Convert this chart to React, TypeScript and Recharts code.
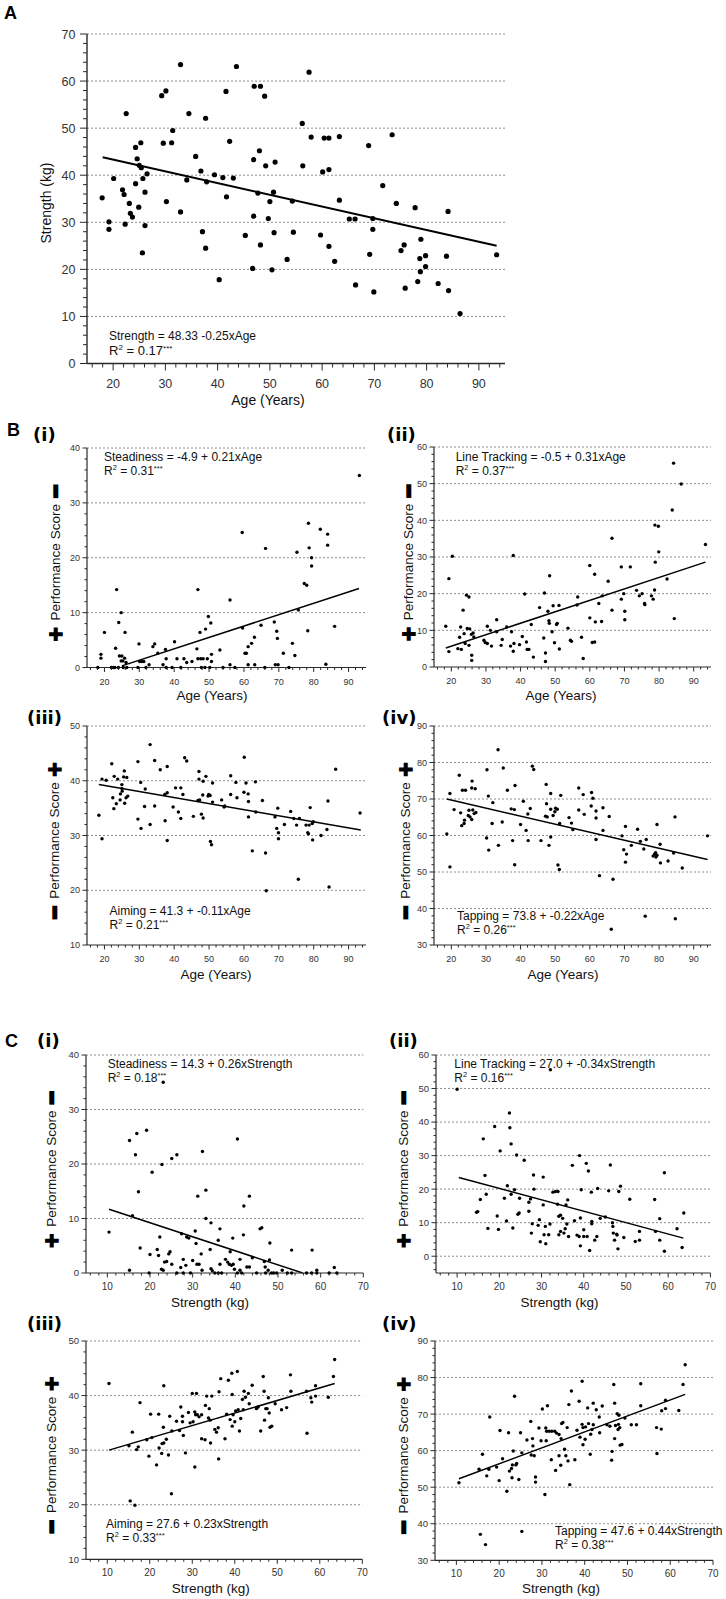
import React from 'react';
import { ScatterChart, Scatter, XAxis, YAxis, ReferenceLine } from 'recharts';

type Pair = [number, number];

// ---------- DATA ----------
// Panel A: Age (years) vs Strength (kg)
const strengthVsAge: Pair[] = [
  [17.9,35.2],[19.2,30.1],[19.2,28.5],[20.1,39.3],[21.8,36.9],[22.1,35.9],[22.5,53.1],[22.3,29.6],[23.1,34.0],[23.3,31.9],
  [23.7,31.1],[24.3,45.9],[24.3,38.2],[24.6,43.5],[24.9,33.2],[25.0,42.1],[25.3,46.9],[25.4,41.6],[25.7,39.3],[25.6,23.5],
  [26.1,36.4],[26.1,29.3],[26.5,40.3],[29.3,56.9],[29.6,46.8],[30.1,57.9],[30.2,34.4],[31.2,46.9],[31.4,49.5],[32.9,63.5],
  [32.9,32.2],[34.1,39.0],[34.5,53.1],[35.8,44.0],[36.8,40.9],[37.1,28.0],[37.7,52.1],[37.9,38.6],[37.7,24.5],[39.4,40.1],
  [40.3,17.8],[41.0,39.5],[41.6,57.8],[41.7,35.4],[42.3,47.2],[43.0,39.4],[43.6,63.1],[45.3,27.2],[46.7,20.2],[46.9,43.3],
  [46.9,31.3],[47.0,58.9],[47.7,36.2],[48.0,45.2],[48.2,58.9],[48.2,25.2],[49.0,56.8],[49.2,42.0],[49.7,30.8],[50.0,34.4],
  [50.4,19.9],[50.7,36.4],[50.8,27.8],[51.0,42.8],[53.3,22.1],[54.3,34.5],[54.5,27.9],[56.2,51.0],[56.3,42.0],[57.5,61.9],
  [57.9,48.1],[59.7,27.3],[60.1,40.7],[60.4,47.9],[61.3,47.9],[61.3,41.2],[61.3,24.9],[62.4,21.7],[63.3,48.2],[63.3,34.7],
  [65.2,30.7],[66.3,30.7],[66.4,16.7],[68.9,46.3],[69.1,23.2],[69.7,30.8],[69.7,28.5],[69.9,15.2],[71.6,37.8],[73.4,48.6],
  [74.2,34.0],[75.1,24.0],[75.7,25.2],[75.9,16.0],[77.8,33.1],[78.3,17.4],[78.7,22.3],[78.9,26.4],[78.8,19.5],[79.8,22.9],
  [79.8,20.6],[82.2,17.0],[83.8,22.8],[84.1,32.3],[84.2,15.5],[86.4,10.6],[93.4,23.1],
];
const strengthVsAgeFit: [Pair, Pair] = [[18, 43.8], [93.4, 25.0]];

// Panel B(i): Age vs Steadiness
const steadinessVsAge: Pair[] = [
  [18.1,0],[19.0,2.4],[19.0,1.7],[20.0,6.4],[22.0,0],[22.5,0],[23.0,0],[23.2,3.5],[23.5,14.2],[24.1,8.2],
  [24.8,10.0],[24.3,2.1],[25.0,2.1],[24.8,1.2],[25.3,1.2],[25.8,1.7],[25.9,6.4],[26.2,0.9],[24.0,0],[25.4,0],
  [26.4,0],[29.6,0],[29.9,4.3],[30.1,1.1],[30.7,1.1],[31.3,1.1],[31.9,0],[32.8,0.5],[33.9,3.8],[34.4,4.3],
  [35.3,2.6],[36.8,0.5],[37.5,3.3],[37.7,1.6],[37.7,0],[39.4,0],[40.1,4.7],[40.8,1.6],[41.9,0],[42.8,1.6],
  [43.6,0.9],[45.1,1.1],[46.5,3.4],[46.8,14.2],[46.8,1.6],[47.6,1.6],[48.3,1.6],[47.4,6.4],[49.0,7.0],[49.5,1.6],
  [49.8,9.3],[50.5,8.1],[50.7,2.4],[50.7,1.1],[47.8,0],[48.8,0],[50.2,0],[53.1,3.2],[54.0,0],[56.0,12.3],
  [56.0,0.5],[57.4,0],[59.5,24.6],[59.6,7.2],[60.3,2.6],[60.7,2.6],[61.2,3.8],[61.2,0.5],[62.2,4.4],[63.0,5.5],
  [63.1,0.5],[64.9,7.7],[66.0,0],[66.2,21.7],[68.7,8.3],[69.4,6.6],[69.6,5.3],[69.0,0.5],[69.8,0.5],[71.3,2.6],
  [72.9,0],[73.9,4.4],[74.6,2.2],[75.2,21.0],[75.6,10.5],[77.3,15.3],[78.0,15.0],[78.3,6.7],[78.5,26.3],[78.7,21.8],
  [79.4,20.0],[79.4,18.5],[81.9,25.2],[84.0,24.3],[84.0,22.3],[83.5,0.6],[86.0,7.5],[93.1,35.0],
];
const steadinessVsAgeFit: [Pair, Pair] = [[25.0, 0.3], [93.0, 14.4]];

// Panel B(ii): Age vs Line Tracking
const lineTrackingVsAge: Pair[] = [
  [18.4,11.1],[19.3,4.2],[19.3,24.1],[20.3,30.2],[21.9,5.0],[22.4,8.1],[22.7,10.9],[22.9,4.8],[23.4,15.5],[23.7,9.1],
  [24.0,6.4],[24.4,19.6],[25.1,19.1],[24.6,10.5],[25.3,10.4],[25.1,5.9],[25.8,8.9],[25.9,3.2],[25.9,1.8],[26.3,9.3],
  [26.5,8.2],[29.4,7.3],[29.8,6.7],[30.4,6.4],[30.4,11.1],[31.3,10.0],[31.6,5.7],[33.1,12.9],[33.1,9.6],[34.4,5.9],
  [34.7,7.5],[36.0,10.9],[37.1,5.7],[37.4,9.6],[37.9,4.3],[37.9,30.4],[38.1,6.4],[39.7,6.1],[40.5,8.3],[41.2,19.9],
  [41.7,6.8],[41.9,4.8],[42.4,4.8],[43.1,11.6],[43.7,2.7],[45.5,16.2],[46.7,7.9],[46.9,20.2],[47.2,3.8],[47.2,1.5],
  [47.9,15.2],[48.2,12.6],[48.4,24.9],[48.3,11.9],[49.1,9.6],[49.4,16.7],[49.8,6.6],[50.4,11.6],[50.6,11.9],[51.1,16.8],
  [51.2,4.9],[53.7,10.6],[54.4,7.3],[54.7,7.0],[56.3,16.9],[56.5,19.1],[57.6,8.1],[58.1,2.3],[60.0,27.7],[60.0,13.4],
  [60.7,6.7],[61.4,6.8],[61.4,25.3],[61.6,12.3],[62.6,17.3],[63.4,12.4],[63.6,19.4],[65.3,23.4],[66.4,35.1],[66.4,15.5],
  [69.1,27.3],[69.1,18.5],[69.8,20.0],[70.1,15.2],[70.1,12.9],[71.7,27.3],[73.5,20.9],[74.3,19.4],[75.1,20.0],[75.8,17.3],
  [75.9,17.0],[77.8,19.4],[78.3,18.5],[78.7,21.0],[78.8,38.7],[79.8,38.4],[78.9,28.6],[79.9,31.4],[82.3,24.0],[83.8,42.8],
  [84.2,55.6],[84.4,13.2],[86.4,49.9],[93.4,33.4],
];
const lineTrackingVsAgeFit: [Pair, Pair] = [[18.4, 5.2], [93.4, 28.6]];

// Panel B(iii): Age vs Aiming
const aimingVsAge: Pair[] = [
  [18.4,33.7],[19.3,29.4],[19.3,40.3],[20.5,40.1],[22.1,43.1],[22.4,36.9],[22.8,40.8],[22.7,34.9],[23.4,35.8],[23.8,40.3],
  [24.5,36.5],[24.6,37.6],[25.0,38.6],[25.0,39.3],[25.1,38.1],[25.7,41.8],[25.8,35.9],[25.5,40.7],[26.2,36.9],[26.4,40.6],
  [26.7,37.2],[29.6,43.5],[29.6,33.0],[30.4,39.7],[30.5,31.3],[31.5,35.3],[31.7,38.5],[33.1,46.6],[33.1,32.0],[34.4,43.7],
  [34.4,35.4],[36.0,42.0],[37.3,37.5],[37.4,32.7],[38.0,42.6],[38.0,37.8],[38.0,29.1],[39.7,35.2],[40.4,38.7],[41.2,34.3],
  [41.9,33.1],[41.9,38.7],[42.5,37.5],[43.0,44.2],[43.6,43.6],[45.5,33.5],[46.8,36.4],[47.1,41.7],[47.1,40.3],[47.3,36.5],
  [47.8,33.9],[48.3,33.2],[48.2,37.4],[48.3,39.9],[49.1,40.8],[49.7,37.2],[49.9,37.5],[50.3,37.3],[50.4,28.9],[50.7,28.3],
  [51.0,39.6],[51.0,36.1],[53.6,36.5],[54.3,35.2],[54.5,35.4],[56.2,40.9],[56.2,37.5],[57.7,39.7],[58.0,36.9],[60.1,44.3],
  [60.0,37.9],[60.6,39.6],[61.2,37.6],[61.3,36.2],[61.3,33.4],[62.4,27.2],[63.3,39.8],[63.4,34.3],[65.3,36.4],[66.2,26.8],
  [66.4,19.9],[68.9,33.4],[69.4,31.3],[69.7,35.0],[69.9,30.5],[69.9,29.4],[71.6,32.0],[73.4,34.4],[74.3,33.1],[75.1,31.9],
  [75.6,22.0],[75.9,33.1],[77.8,31.9],[78.3,30.5],[78.5,30.3],[78.7,31.9],[79.0,35.1],[79.6,32.2],[79.7,29.2],[79.9,32.5],
  [82.1,30.0],[83.8,31.1],[84.1,36.3],[84.4,20.6],[86.3,42.1],[93.3,34.1],
];
const aimingVsAgeFit: [Pair, Pair] = [[18.4, 39.3], [93.5, 31.0]];

// Panel B(iv): Age vs Tapping
const tappingVsAge: Pair[] = [
  [18.7,60.4],[19.6,71.5],[19.6,51.4],[20.8,67.1],[22.3,76.5],[22.7,66.2],[23.0,62.7],[23.2,72.4],[23.7,63.3],[23.8,64.2],
  [24.1,72.4],[24.9,65.5],[25.1,66.9],[25.4,65.1],[25.9,64.4],[26.0,74.9],[25.9,73.0],[26.2,67.0],[26.6,66.0],[27.1,66.3],
  [26.9,72.8],[30.2,59.3],[30.3,78.0],[30.7,70.8],[30.8,56.0],[31.8,63.3],[32.0,69.0],[33.5,83.5],[33.6,57.3],[34.7,63.7],
  [35.0,78.5],[36.2,72.4],[37.3,67.3],[37.7,58.6],[38.3,52.0],[38.2,67.1],[38.4,73.7],[40.0,63.0],[40.8,69.4],[41.6,61.4],
  [42.1,65.9],[42.8,67.4],[42.2,58.6],[43.4,79.0],[43.8,78.1],[45.9,58.6],[47.2,65.3],[47.4,74.0],[47.5,68.7],[47.7,65.1],
  [48.2,57.3],[48.7,71.5],[48.7,67.2],[48.7,59.6],[49.4,65.5],[49.9,66.5],[50.1,67.5],[50.6,67.2],[50.8,51.9],[51.2,50.7],
  [51.3,63.3],[51.6,71.0],[54.0,64.9],[54.7,63.4],[55.1,61.6],[56.8,73.0],[56.8,67.0],[58.1,71.2],[58.4,65.8],[60.4,68.1],
  [60.5,71.8],[60.9,70.2],[61.8,66.7],[61.8,64.8],[61.8,58.9],[62.8,49.0],[63.8,67.6],[63.8,61.4],[65.6,65.2],[66.7,48.0],
  [66.2,34.3],[69.3,59.9],[69.8,56.1],[70.3,62.5],[70.3,52.7],[70.6,54.9],[72.0,57.3],[73.8,61.7],[74.6,58.4],[75.6,56.3],
  [76.3,58.9],[76.0,37.9],[78.3,54.4],[78.7,54.9],[79.0,55.3],[79.1,54.1],[79.4,54.6],[79.4,63.0],[80.3,57.6],[80.4,52.5],
  [82.6,53.0],[84.2,55.2],[84.6,65.1],[84.7,37.2],[86.7,51.1],[94.0,59.9],
];
const tappingVsAgeFit: [Pair, Pair] = [[18.7, 70.0], [94.0, 53.4]];

// Panel C(i): Strength vs Steadiness
const steadinessVsStrength: Pair[] = [
  [10.4,7.5],[15.2,24.3],[15.2,0.5],[16.6,21.7],[15.9,10.5],[16.9,25.6],[17.3,14.9],[17.7,4.6],[19.2,26.2],[19.8,0],
  [20.0,3.4],[20.5,18.5],[21.7,4.3],[22.0,3.2],[22.3,6.6],[22.8,19.9],[22.7,0.7],[23.1,35.0],[23.1,0.5],[23.4,2.0],
  [23.9,2.1],[24.4,3.5],[24.7,3.9],[25.1,21.0],[25.1,1.6],[26.3,21.7],[26.3,0],[27.2,1.0],[27.4,7.2],[27.8,2.5],
  [27.8,0],[28.4,1.4],[28.6,6.6],[29.1,6.4],[29.5,0],[30.0,2.3],[30.6,7.7],[30.8,5.4],[31.0,1.6],[31.2,14.1],
  [31.5,1.6],[32.0,3.5],[32.2,0.5],[32.3,22.3],[33.1,15.2],[33.1,10.0],[34.1,4.3],[34.3,9.2],[34.3,0.8],[34.6,0.4],
  [35.2,0],[36.0,0],[36.0,6.0],[36.4,8.1],[36.4,1.6],[36.8,0],[37.7,2.5],[38.2,2.0],[38.6,1.6],[38.8,3.9],
  [39.1,1.4],[39.4,6.4],[39.5,1.6],[39.8,0.7],[40.5,24.6],[40.5,0],[41.1,2.5],[41.1,0.5],[41.5,0],[41.9,7.0],
  [42.0,12.3],[42.7,1.1],[43.3,14.1],[43.3,1.1],[44.0,2.8],[45.0,0],[45.8,8.1],[46.2,8.3],[46.8,2.1],[47.0,1.1],
  [47.1,0],[48.0,2.4],[48.1,5.5],[47.7,0.5],[48.5,0],[49.0,0],[49.7,0],[51.0,0.5],[52.2,0],[53.2,4.2],
  [53.2,0],[56.7,0],[57.9,0],[58.0,4.2],[59.1,0.5],[59.1,0],[62.0,0],[63.2,1.0],[63.8,0],
];
const steadinessVsStrengthFit: [Pair, Pair] = [[10.4, 11.7], [55.8, 0]];

// Panel C(ii): Strength vs Line Tracking
const lineTrackingVsStrength: Pair[] = [
  [10.0,49.8],[14.6,13.1],[14.9,13.3],[15.5,16.9],[16.2,35.0],[16.6,24.1],[16.9,18.5],[17.3,8.3],[18.9,38.7],[19.5,12.0],
  [19.8,8.0],[20.2,31.4],[21.2,17.3],[21.7,10.5],[21.9,21.0],[22.4,42.7],[22.5,38.3],[22.8,33.5],[22.8,18.5],[23.2,8.4],
  [23.6,19.8],[24.1,30.2],[24.4,12.5],[24.7,12.9],[24.8,17.3],[25.9,28.6],[27.0,16.1],[27.0,13.4],[27.4,17.1],[27.6,6.9],
  [27.8,9.7],[28.1,24.2],[28.2,20.0],[29.2,9.2],[29.5,10.9],[29.7,4.3],[30.4,23.6],[30.4,15.3],[30.6,6.4],[30.9,8.9],
  [31.0,3.7],[31.7,6.4],[32.0,9.6],[32.1,55.6],[32.7,19.1],[33.3,19.3],[33.9,19.3],[33.8,15.5],[34.1,6.4],[34.1,11.9],
  [34.5,12.2],[34.5,7.4],[35.0,11.3],[35.3,6.9],[35.6,8.2],[35.8,15.3],[36.0,9.6],[36.2,16.8],[36.4,5.9],[37.3,27.1],
  [37.8,10.6],[38.4,6.3],[38.9,5.9],[39.0,30.0],[39.2,11.4],[39.2,3.1],[39.4,19.8],[40.0,7.9],[40.0,5.9],[40.6,27.7],
  [40.8,5.9],[41.1,25.4],[41.4,1.7],[41.8,19.1],[41.9,10.4],[41.9,9.7],[42.6,4.8],[43.1,5.9],[43.3,20.2],[43.9,11.3],
  [45.1,11.7],[45.9,19.5],[46.3,27.2],[46.8,10.0],[46.9,8.9],[47.0,6.9],[47.3,4.8],[47.8,6.6],[47.9,6.3],[48.1,2.2],
  [48.3,19.3],[48.7,20.9],[49.5,5.6],[50.9,17.0],[52.2,4.4],[53.2,4.8],[53.2,7.4],[56.8,16.9],[57.0,7.4],[58.0,4.8],
  [58.0,11.2],[59.1,24.9],[59.1,1.5],[62.1,8.2],[63.3,2.6],[63.7,12.9],
];
const lineTrackingVsStrengthFit: [Pair, Pair] = [[10.4, 23.5], [63.6, 5.4]];

// Panel C(iii): Strength vs Aiming
const aimingVsStrength: Pair[] = [
  [10.4,42.2],[15.1,30.8],[15.4,20.7],[15.9,33.3],[16.5,19.9],[16.9,30.1],[17.3,30.6],[17.7,38.7],[19.3,31.9],[19.8,28.9],
  [20.2,36.6],[20.5,32.3],[21.6,27.3],[22.1,36.6],[22.2,30.4],[22.8,29.4],[22.9,31.2],[23.2,34.2],[23.3,41.8],[23.3,31.3],
  [23.9,32.0],[24.4,29.1],[24.7,36.2],[25.1,22.0],[25.2,33.5],[26.3,35.3],[27.0,33.6],[27.3,37.9],[27.7,36.2],[27.7,35.2],
  [27.9,32.7],[28.4,29.5],[29.1,36.9],[29.5,35.0],[30.0,40.4],[30.2,35.2],[30.6,37.0],[30.6,26.9],[30.8,36.5],[31.0,40.4],
  [31.2,36.5],[31.6,36.1],[32.2,36.5],[32.2,32.1],[33.0,31.9],[33.4,39.9],[33.1,38.2],[33.8,35.9],[34.0,37.6],[34.2,35.5],
  [34.3,31.3],[34.6,39.9],[35.3,33.8],[35.7,33.3],[36.1,34.1],[36.2,28.4],[36.3,40.7],[36.7,43.1],[37.7,32.1],[38.1,36.6],
  [38.5,42.8],[38.9,35.6],[39.3,44.1],[39.4,40.2],[39.4,34.4],[39.6,36.5],[40.0,35.2],[40.2,37.2],[40.6,44.4],[40.8,37.4],
  [41.1,33.5],[41.4,35.8],[41.8,39.3],[42.0,37.4],[42.2,40.8],[42.5,39.7],[43.2,40.4],[43.4,38.5],[44.1,41.9],[45.1,37.6],
  [45.5,37.9],[46.1,33.5],[46.7,43.5],[46.9,40.8],[47.0,35.5],[47.3,37.6],[47.6,37.6],[47.9,39.6],[48.1,36.8],[48.3,34.2],
  [48.7,34.4],[49.5,38.5],[51.0,37.4],[52.2,37.8],[53.1,43.8],[53.2,40.8],[56.9,40.8],[57.0,33.1],[57.9,39.6],[58.1,38.8],
  [59.0,41.8],[59.0,39.9],[62.0,39.7],[63.2,43.5],[63.5,46.6],
];
const aimingVsStrengthFit: [Pair, Pair] = [[10.4, 30.0], [63.5, 42.2]];

// Panel C(iv): Strength vs Tapping
const tappingVsStrength: Pair[] = [
  [10.6,51.2],[15.3,54.9],[15.6,37.1],[16.1,59.0],[16.8,34.3],[17.1,53.1],[17.6,54.9],[17.8,69.2],[19.4,55.5],[20.0,51.8],
  [20.2,65.5],[20.8,57.8],[21.8,48.9],[22.2,64.9],[22.4,54.4],[22.9,55.1],[23.0,52.6],[23.1,56.1],[23.3,59.9],[23.6,74.9],
  [23.9,56.1],[24.1,56.5],[24.6,52.1],[25.0,64.9],[25.3,59.4],[25.3,37.9],[26.5,62.9],[27.4,68.0],[27.5,58.8],[27.8,63.3],
  [27.9,61.3],[28.2,58.6],[28.5,52.8],[28.5,51.4],[29.3,66.2],[29.8,62.7],[30.1,71.4],[30.7,48.0],[30.9,66.2],[31.0,62.7],
  [31.3,72.3],[31.1,65.3],[31.7,65.3],[32.2,57.5],[32.3,65.3],[33.0,65.3],[33.2,54.6],[33.4,64.8],[34.0,64.4],[34.0,58.6],
  [34.4,56.0],[34.5,63.3],[34.6,67.4],[34.9,67.7],[35.3,60.4],[35.6,58.6],[35.9,66.3],[36.1,57.2],[36.5,50.7],[36.3,72.6],
  [36.9,76.3],[37.7,57.5],[38.2,65.6],[38.7,73.5],[38.9,63.7],[39.4,79.0],[39.4,67.2],[39.6,61.6],[39.6,66.3],[40.1,63.1],
  [40.2,66.5],[40.7,71.7],[40.9,67.4],[41.3,59.0],[41.4,64.5],[41.7,65.8],[42.0,73.0],[42.0,67.1],[42.7,71.2],[43.4,69.2],
  [43.5,64.9],[44.1,72.2],[45.2,67.1],[45.9,66.7],[46.3,57.4],[46.4,59.8],[46.8,78.1],[47.0,73.0],[47.0,63.3],[47.2,66.9],
  [47.6,70.1],[47.8,65.8],[47.9,67.2],[48.0,69.7],[48.2,66.3],[48.3,61.5],[48.7,61.7],[49.4,68.9],[50.9,67.1],[52.1,67.1],
  [53.1,78.3],[53.1,72.3],[56.8,66.3],[56.9,59.2],[57.9,65.9],[58.0,70.9],[58.9,71.5],[58.9,73.8],[62.0,71.0],[63.0,78.1],
  [63.5,83.5],
];
const tappingVsStrengthFit: [Pair, Pair] = [[10.6, 52.3], [63.5, 75.4]];

// Tick labels
const ageMajorTicks = [20, 30, 40, 50, 60, 70, 80, 90];
const strengthMajorTicks = [10, 20, 30, 40, 50, 60, 70];
const strengthAxisMajor = [0, 10, 20, 30, 40, 50, 60, 70];

// ---------- HELPERS ----------
const FONT = '"Liberation Sans", Arial, Helvetica, sans-serif';
const AXIS = '#2a2a2a';
const steps = (a: number, b: number, s: number) => {
  const r: number[] = [];
  for (let v = a; v <= b + 1e-9; v += s) r.push(Math.round(v * 100) / 100);
  return r;
};
const ageTicks = steps(16, 94, 2);
const strengthTicks = steps(6, 70, 2);

interface Cfg {
  left: number; top: number; width: number; height: number;
  xDomain: [number, number]; yDomain: [number, number];
  xTicks: number[]; xMajor: number[]; yTicks: number[]; yMajor: number[]; grid: number[];
  data: Pair[]; fit: [Pair, Pair];
  dotR: number; lineW: number; axisW: number;
  majorLen: number; minorLen: number; xFont: number; yFont: number; xLabelDy: number; yLabelDx: number;
}

function Panel({ c }: { c: Cfg }) {
  const ML = 50, MR = 12, MT = 10, MB = 40;
  const pts = c.data.map(([x, y]) => ({ x, y }));
  const xTick = (p: any) => {
    const v = p.payload.value;
    const major = c.xMajor.includes(v);
    return (
      <g>
        <line x1={p.x} x2={p.x} y1={p.y} y2={p.y + (major ? c.majorLen : c.minorLen)} stroke={AXIS} strokeWidth={1} />
        {major && (
          <text x={p.x} y={p.y + c.xLabelDy} textAnchor="middle" fontSize={c.xFont} fontFamily={FONT} fill="#333">{v}</text>
        )}
      </g>
    );
  };
  const yTick = (p: any) => {
    const v = p.payload.value;
    const major = c.yMajor.includes(v);
    return (
      <g>
        <line x1={p.x - (major ? c.majorLen : c.minorLen)} x2={p.x} y1={p.y} y2={p.y} stroke={AXIS} strokeWidth={1} />
        {major && (
          <text x={p.x - c.yLabelDx} y={p.y + c.yFont * 0.36} textAnchor="end" fontSize={c.yFont} fontFamily={FONT} fill="#333">{v}</text>
        )}
      </g>
    );
  };
  return (
    <div style={{ position: 'absolute', left: c.left - ML, top: c.top - MT }}>
      <ScatterChart width={c.width + ML + MR} height={c.height + MT + MB} margin={{ top: MT, right: MR, bottom: 0, left: 0 }}>
        <XAxis type="number" dataKey="x" domain={c.xDomain} ticks={c.xTicks} interval={0} height={MB}
          tickSize={0} tickMargin={0} tickLine={false} axisLine={{ stroke: AXIS, strokeWidth: c.axisW }} tick={xTick} />
        <YAxis type="number" dataKey="y" domain={c.yDomain} ticks={c.yTicks} interval={0} width={ML}
          tickSize={0} tickMargin={0} tickLine={false} axisLine={{ stroke: AXIS, strokeWidth: c.axisW }} tick={yTick} />
        {c.grid.map((v) => (
          <ReferenceLine key={'g' + v} y={v} stroke="#8c8c8c" strokeWidth={1} strokeDasharray="2 2" />
        ))}
        <Scatter data={pts} isAnimationActive={false}
          shape={(p: any) => <circle cx={p.cx} cy={p.cy} r={c.dotR} fill="#000" />} />
        <ReferenceLine segment={[{ x: c.fit[0][0], y: c.fit[0][1] }, { x: c.fit[1][0], y: c.fit[1][1] }]}
          stroke="#000" strokeWidth={c.lineW} />
      </ScatterChart>
    </div>
  );
}

const small = {
  dotR: 1.7, lineW: 1.5, axisW: 1.2, majorLen: 4.5, minorLen: 2.5, xLabelDy: 17, yLabelDx: 7,
};

const cfgA: Cfg = {
  left: 86.6, top: 34, width: 418, height: 329.5,
  xDomain: [15, 95], yDomain: [0, 70], xTicks: ageTicks, xMajor: ageMajorTicks,
  yTicks: steps(0, 70, 2), yMajor: strengthAxisMajor, grid: [10, 20, 30, 40, 50, 60, 70],
  data: strengthVsAge, fit: strengthVsAgeFit,
  dotR: 2.6, lineW: 2, axisW: 1.4, majorLen: 7, minorLen: 4, xFont: 12.5, yFont: 12.5, xLabelDy: 24, yLabelDx: 11.5,
};

const ageSmall = (left: number, top: number, width: number, height: number, yDomain: [number, number], yMajor: number[], grid: number[], data: Pair[], fit: [Pair, Pair]): Cfg => ({
  left, top, width, height, xDomain: [15, 95], yDomain, xTicks: ageTicks, xMajor: ageMajorTicks,
  yTicks: steps(yDomain[0], yDomain[1], 2), yMajor, grid, data, fit, xFont: 9, yFont: 9, ...small,
});
const strSmall = (left: number, top: number, width: number, height: number, yDomain: [number, number], yTicks: number[], yMajor: number[], grid: number[], data: Pair[], fit: [Pair, Pair]): Cfg => ({
  left, top, width, height, xDomain: [5, 70], yDomain, xTicks: strengthTicks, xMajor: strengthMajorTicks,
  yTicks, yMajor, grid, data, fit, xFont: 10, yFont: 9.5, ...small,
});

const cfgBi = ageSmall(86.5, 447.5, 279, 219.5, [0, 40], [0, 10, 20, 30, 40], [10, 20, 30, 40], steadinessVsAge, steadinessVsAgeFit);
const cfgBii = ageSmall(434, 447, 277, 220, [0, 60], [0, 10, 20, 30, 40, 50, 60], [10, 20, 30, 40, 50, 60], lineTrackingVsAge, lineTrackingVsAgeFit);
const cfgBiii = ageSmall(86.5, 726, 279, 219, [10, 50], [10, 20, 30, 40, 50], [20, 30, 40, 50], aimingVsAge, aimingVsAgeFit);
const cfgBiv = ageSmall(434, 726, 277, 219, [30, 90], [30, 40, 50, 60, 70, 80, 90], [40, 50, 60, 70, 80, 90], tappingVsAge, tappingVsAgeFit);
const cfgCi = strSmall(86, 1054.7, 277.3, 218, [0, 40], steps(0, 40, 2), [0, 10, 20, 30, 40], [10, 20, 30, 40], steadinessVsStrength, steadinessVsStrengthFit);
const cfgCii = strSmall(435.6, 1054.7, 274.4, 218, [-5, 60], steps(-4, 60, 2), [0, 10, 20, 30, 40, 50, 60], [0, 10, 20, 30, 40, 50, 60], lineTrackingVsStrength, lineTrackingVsStrengthFit);
const cfgCiii = strSmall(86, 1340.7, 276.3, 218.3, [10, 50], steps(10, 50, 2), [10, 20, 30, 40, 50], [20, 30, 40, 50], aimingVsStrength, aimingVsStrengthFit);
const cfgCiv = strSmall(435.3, 1340.7, 278, 219.3, [30, 90], steps(30, 90, 2), [30, 40, 50, 60, 70, 80, 90], [40, 50, 60, 70, 80, 90], tappingVsStrength, tappingVsStrengthFit);

// ---------- TEXT OVERLAY ----------
function Eq({ x, y, text, r2, size = 12, len }: { x: number; y: number; text: string; r2: string; size?: number; len?: number }) {
  return (
    <g fontFamily={FONT} fill="#111">
      <text x={x} y={y} fontSize={size} {...(len ? { textLength: len, lengthAdjust: 'spacingAndGlyphs' } : {})}>{text}</text>
      <text x={x} y={y + size * 1.18} fontSize={size}>
        R<tspan fontSize={size * 0.62} dy={-size * 0.4}>2</tspan>
        <tspan dy={size * 0.4}>{' = ' + r2}</tspan>
        <tspan fontSize={size * 0.62} dy={-size * 0.33}>***</tspan>
      </text>
    </g>
  );
}

function PerfTitle({ x, cy, plusTop }: { x: number; cy: number; plusTop: boolean }) {
  const topY = cy - 66, midY = cy + 5, botY = cy + 77;
  const sign = (y: number, s: string) => (
    <text x={x} y={y} transform={`rotate(-90 ${x} ${y})`} textAnchor="middle" dominantBaseline="central"
      fontSize={s === '+' ? 24 : 22} fontWeight="bold" fontFamily={FONT} fill="#000" stroke="#000" strokeWidth={s === '+' ? 1.4 : 2.6}>{s}</text>
  );
  return (
    <g>
      <text x={x} y={midY} transform={`rotate(-90 ${x} ${midY})`} textAnchor="middle" dominantBaseline="central"
        fontSize={13.5} fontFamily={FONT} fill="#111">Performance Score</text>
      {sign(topY, plusTop ? '+' : '\u2212')}
      {sign(botY, plusTop ? '\u2212' : '+')}
    </g>
  );
}

const XT = ({ x, y, t, size = 13.5 }: { x: number; y: number; t: string; size?: number }) => (
  <text x={x} y={y} textAnchor="middle" fontSize={size} fontFamily={FONT} fill="#111">{t}</text>
);
const Letter = ({ x, y, t }: { x: number; y: number; t: string }) => (
  <text x={x} y={y} fontSize={18} fontWeight="bold" fontFamily={FONT} fill="#000">{t}</text>
);
const Sub = ({ x, y, t }: { x: number; y: number; t: string }) => (
  <text x={x} y={y} fontSize={18} fontWeight="bold" fontFamily='"DejaVu Sans", sans-serif' fill="#000">{t}</text>
);

function Overlay() {
  const mid = (c: Cfg) => c.top + c.height / 2;
  return (
    <svg width={726} height={1599} style={{ position: 'absolute', left: 0, top: 0, pointerEvents: 'none' }}>
      {/* Panel A */}
      <Letter x={4} y={19} t="A" />
      <text x={46.4} y={203} transform="rotate(-90 46.4 203)" textAnchor="middle" dominantBaseline="central" fontSize={14} fontFamily={FONT} fill="#111">Strength (kg)</text>
      <XT x={268} y={405} t="Age (Years)" size={14} />
      <Eq x={109} y={339.5} text="Strength = 48.33 -0.25xAge" r2="0.17" size={13} len={147} />

      {/* Panel B */}
      <Letter x={7} y={436} t="B" />
      <Sub x={33} y={441} t="(i)" />
      <Sub x={387} y={441} t="(ii)" />
      <Sub x={27} y={723.5} t="(iii)" />
      <Sub x={382} y={723.5} t="(iv)" />
      <PerfTitle x={55} cy={mid(cfgBi)} plusTop={false} />
      <PerfTitle x={408} cy={mid(cfgBii)} plusTop={false} />
      <PerfTitle x={54} cy={mid(cfgBiii)} plusTop={true} />
      <PerfTitle x={405} cy={mid(cfgBiv)} plusTop={true} />
      <XT x={212} y={700} t="Age (Years)" />
      <XT x={561} y={700} t="Age (Years)" />
      <XT x={216} y={979} t="Age (Years)" />
      <XT x={563} y={979} t="Age (Years)" />
      <Eq x={104} y={461} text="Steadiness = -4.9 + 0.21xAge" r2="0.31" />
      <Eq x={455.7} y={461} text="Line Tracking = -0.5 + 0.31xAge" r2="0.37" />
      <Eq x={109.5} y={914.5} text="Aiming = 41.3 + -0.11xAge" r2="0.21" />
      <Eq x={457} y={919.5} text="Tapping = 73.8 + -0.22xAge" r2="0.26" />

      {/* Panel C */}
      <Letter x={5} y={1047} t="C" />
      <Sub x={37} y={1046.5} t="(i)" />
      <Sub x={389} y={1046.5} t="(ii)" />
      <Sub x={27} y={1330} t="(iii)" />
      <Sub x={382} y={1330} t="(iv)" />
      <PerfTitle x={52} cy={mid(cfgCi)} plusTop={false} />
      <PerfTitle x={403.5} cy={mid(cfgCii)} plusTop={false} />
      <PerfTitle x={52} cy={mid(cfgCiii)} plusTop={true} />
      <PerfTitle x={403.5} cy={mid(cfgCiv)} plusTop={true} />
      <XT x={210} y={1306.5} t="Strength (kg)" />
      <XT x={559.5} y={1306.5} t="Strength (kg)" />
      <XT x={210.8} y={1592.8} t="Strength (kg)" />
      <XT x={561} y={1592.8} t="Strength (kg)" />
      <Eq x={107.7} y={1067.5} text="Steadiness = 14.3 + 0.26xStrength" r2="0.18" />
      <Eq x={454.3} y={1067.5} text="Line Tracking = 27.0 + -0.34xStrength" r2="0.16" />
      <Eq x={106} y={1527.5} text="Aiming = 27.6 + 0.23xStrength" r2="0.33" />
      <Eq x={555} y={1535} text="Tapping = 47.6 + 0.44xStrength" r2="0.38" />
    </svg>
  );
}

export default function App() {
  return (
    <div style={{ position: 'absolute', left: 0, top: 0, width: 726, height: 1599, background: '#fff', overflow: 'hidden' }}>
      <Panel c={cfgA} />
      <Panel c={cfgBi} />
      <Panel c={cfgBii} />
      <Panel c={cfgBiii} />
      <Panel c={cfgBiv} />
      <Panel c={cfgCi} />
      <Panel c={cfgCii} />
      <Panel c={cfgCiii} />
      <Panel c={cfgCiv} />
      <Overlay />
    </div>
  );
}
